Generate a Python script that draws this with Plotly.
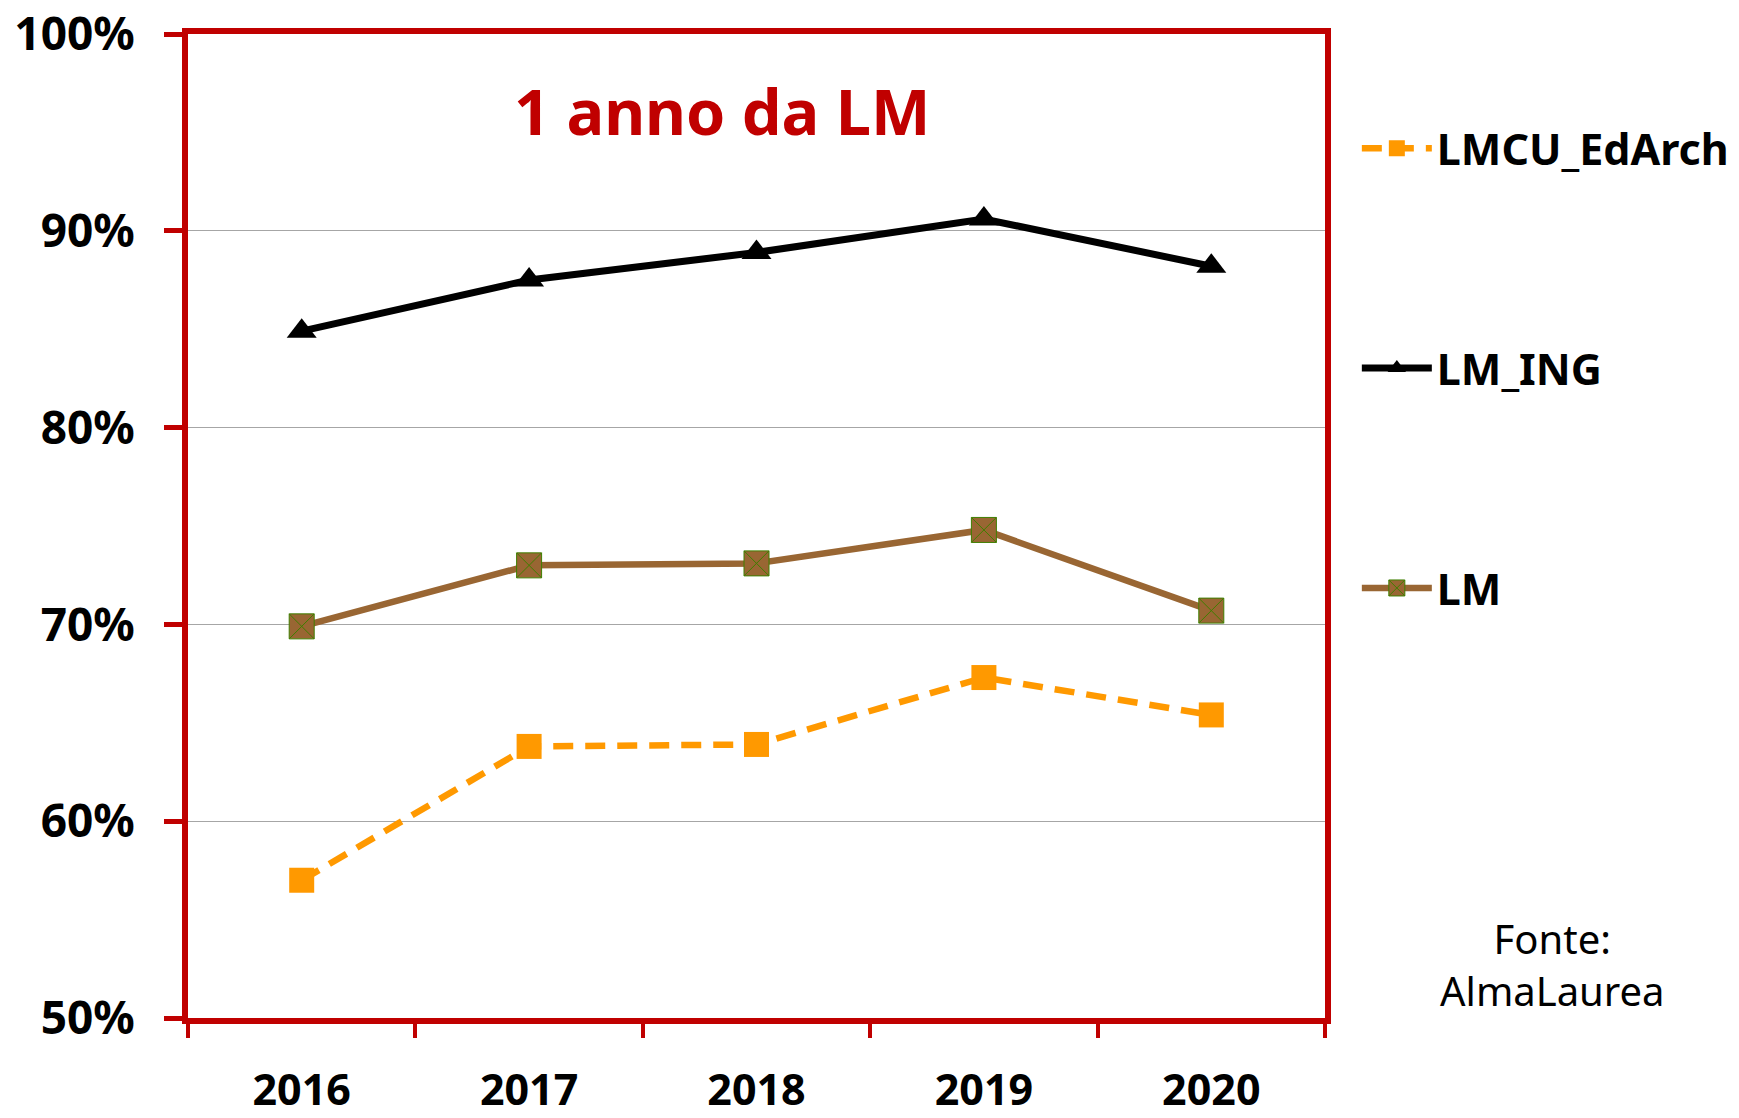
import plotly.graph_objects as go

years = ["2016", "2017", "2018", "2019", "2020"]
lmcu_edarch = [57.0, 63.8, 63.9, 67.3, 65.4]
lm_ing = [84.9, 87.5, 88.9, 90.6, 88.2]
lm = [69.9, 73.0, 73.1, 74.8, 70.7]
y_ticks = [50, 60, 70, 80, 90, 100]
y_tick_labels = ["50%", "60%", "70%", "80%", "90%", "100%"]

FONT = "Comic Sans MS, Noto Sans, sans-serif"
RED = "#C00000"

fig = go.Figure()
fig.add_trace(go.Scatter(
    x=years, y=lmcu_edarch, name="LMCU_EdArch", mode="lines+markers",
    line=dict(color="#FF9900", width=6.5, dash="20px,12px"),
    marker=dict(symbol="square", size=25, color="#FF9900"),
    legendgroup="a", legendrank=1))
fig.add_trace(go.Scatter(
    x=years, y=lm_ing, name="LM_ING", mode="lines+markers",
    line=dict(color="#000000", width=7),
    marker=dict(symbol="triangle-up", size=26, color="#000000"),
    legendgroup="b", legendrank=2))
fig.add_trace(go.Scatter(
    x=years, y=lm, name="LM", mode="lines+markers",
    line=dict(color="#996633", width=6.5),
    marker=dict(symbol="square-x", size=25, color="#996633",
                line=dict(color="#3F7F00", width=1)),
    legendgroup="c", legendrank=3))

fig.update_layout(
    width=1731, height=1110,
    paper_bgcolor="white", plot_bgcolor="white",
    margin=dict(l=180, r=414, t=26, b=100, autoexpand=False),
    font=dict(family=FONT, color="black"),
    legend=dict(x=1.028, xanchor="left", y=0.919, yanchor="top",
                font=dict(size=43, family=FONT, color="black", weight="bold"),
                tracegroupgap=161, itemwidth=70, bgcolor="rgba(0,0,0,0)"),
    showlegend=True,
)
fig.update_xaxes(
    type="category", showline=True, linecolor=RED, linewidth=6, mirror=True,
    ticks="outside", tickson="boundaries", tickcolor=RED, tickwidth=4, ticklen=14,
    tickfont=dict(size=43, family=FONT, color="black", weight="bold"),
    ticklabelstandoff=29, ticklabeloverflow="allow",
    showgrid=False, range=[-0.5, 4.5], automargin=False,
)
fig.update_yaxes(
    range=[50, 100], tickvals=y_ticks, ticktext=y_tick_labels,
    showline=True, linecolor=RED, linewidth=6, mirror=True,
    ticks="outside", tickcolor=RED, tickwidth=5, ticklen=18,
    tickfont=dict(size=46, family=FONT, color="black", weight="bold"),
    ticklabelstandoff=20, ticklabeloverflow="allow",
    showgrid=True, gridcolor="#A6A6A6", gridwidth=1, zeroline=False,
    automargin=False,
)
fig.add_annotation(
    text="1 anno da LM", xref="paper", yref="paper", x=0.47, y=0.922,
    xanchor="center", yanchor="middle", showarrow=False,
    font=dict(size=63, family=FONT, color=RED, weight="bold"))
fig.add_annotation(
    text="Fonte:<br>AlmaLaurea", xref="paper", yref="paper", x=1.2, y=0.054,
    xanchor="center", yanchor="middle", showarrow=False, align="center",
    font=dict(size=40, family=FONT, color="black"))

fig.write_html("out.html")
